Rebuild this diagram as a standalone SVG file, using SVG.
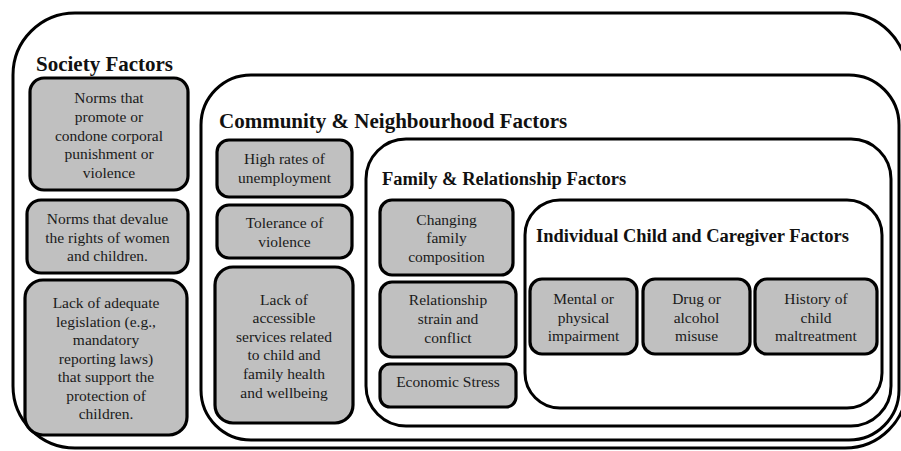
<svg xmlns="http://www.w3.org/2000/svg" width="901" height="451" viewBox="0 0 901 451">
<style>
.bg{fill:#ffffff}
.frame{fill:#ffffff;stroke:#000;stroke-width:3}
.item{fill:#c0c0c0;stroke:#000;stroke-width:3.2}
.t{font-family:"Liberation Serif","Times New Roman",serif;font-size:15.5px;fill:#1a1a1a;text-anchor:middle}
.h{font-family:"Liberation Serif","Times New Roman",serif;font-weight:bold;fill:#111}
</style>
<rect class="bg" x="0" y="0" width="901" height="451"/>
<g id="society">
<rect class="frame" x="13" y="13" width="894" height="435" rx="62"/>
<text class="h" x="36" y="71" font-size="21">Society Factors</text>
</g>
<g id="community">
<rect class="frame" x="201" y="75" width="698" height="365" rx="50"/>
<text class="h" x="219" y="128" font-size="21">Community &amp; Neighbourhood Factors</text>
</g>
<g id="family">
<rect class="frame" x="366" y="139" width="525" height="287" rx="40"/>
<text class="h" x="382" y="185" font-size="18.5">Family &amp; Relationship Factors</text>
</g>
<g id="individual">
<rect class="frame" x="525" y="200" width="357" height="208" rx="35"/>
<text class="h" x="536" y="242" font-size="18.5">Individual Child and Caregiver Factors</text>
</g>
<g id="s1">
<rect class="item" x="30" y="78" width="158" height="112" rx="14"/>
<text class="t" x="109" y="103">Norms that</text>
<text class="t" x="109" y="122">promote or</text>
<text class="t" x="109" y="141">condone corporal</text>
<text class="t" x="109" y="159">punishment or</text>
<text class="t" x="109" y="178">violence</text>
</g>
<g id="s2">
<rect class="item" x="27" y="200" width="161" height="73" rx="14"/>
<text class="t" x="107.5" y="224">Norms that devalue</text>
<text class="t" x="107.5" y="243">the rights of women</text>
<text class="t" x="107.5" y="261">and children.</text>
</g>
<g id="s3">
<rect class="item" x="25" y="280" width="162" height="155" rx="18"/>
<text class="t" x="106" y="308">Lack of adequate</text>
<text class="t" x="106" y="327">legislation (e.g.,</text>
<text class="t" x="106" y="345">mandatory</text>
<text class="t" x="106" y="364">reporting laws)</text>
<text class="t" x="106" y="382">that support the</text>
<text class="t" x="106" y="401">protection of</text>
<text class="t" x="106" y="419">children.</text>
</g>
<g id="c1">
<rect class="item" x="217" y="140" width="135" height="57" rx="12"/>
<text class="t" x="284.5" y="164">High rates of</text>
<text class="t" x="284.5" y="183">unemployment</text>
</g>
<g id="c2">
<rect class="item" x="217" y="205" width="135" height="53" rx="12"/>
<text class="t" x="284.5" y="228">Tolerance of</text>
<text class="t" x="284.5" y="247">violence</text>
</g>
<g id="c3">
<rect class="item" x="215" y="267" width="138" height="156" rx="18"/>
<text class="t" x="284" y="305">Lack of</text>
<text class="t" x="284" y="323">accessible</text>
<text class="t" x="284" y="342">services related</text>
<text class="t" x="284" y="360">to child and</text>
<text class="t" x="284" y="379">family health</text>
<text class="t" x="284" y="398">and wellbeing</text>
</g>
<g id="f1">
<rect class="item" x="380" y="200" width="133" height="75" rx="12"/>
<text class="t" x="446.5" y="225">Changing</text>
<text class="t" x="446.5" y="243">family</text>
<text class="t" x="446.5" y="262">composition</text>
</g>
<g id="f2">
<rect class="item" x="380" y="282" width="136" height="75" rx="12"/>
<text class="t" x="448" y="305">Relationship</text>
<text class="t" x="448" y="324">strain and</text>
<text class="t" x="448" y="343">conflict</text>
</g>
<g id="f3">
<rect class="item" x="380" y="364" width="136" height="43" rx="10"/>
<text class="t" x="448" y="387">Economic Stress</text>
</g>
<g id="i1">
<rect class="item" x="530" y="279" width="107" height="75" rx="12"/>
<text class="t" x="583.5" y="304">Mental or</text>
<text class="t" x="583.5" y="323">physical</text>
<text class="t" x="583.5" y="341">impairment</text>
</g>
<g id="i2">
<rect class="item" x="643" y="279" width="107" height="75" rx="12"/>
<text class="t" x="696.5" y="304">Drug or</text>
<text class="t" x="696.5" y="323">alcohol</text>
<text class="t" x="696.5" y="341">misuse</text>
</g>
<g id="i3">
<rect class="item" x="755" y="279" width="122" height="75" rx="12"/>
<text class="t" x="816" y="304">History of</text>
<text class="t" x="816" y="323">child</text>
<text class="t" x="816" y="341">maltreatment</text>
</g>
<g id="connectors"></g>
</svg>
